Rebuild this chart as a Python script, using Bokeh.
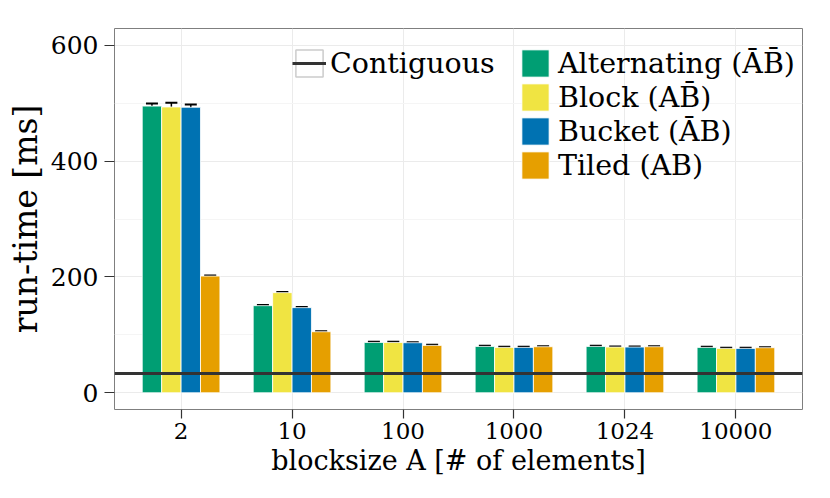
from bokeh.plotting import figure
from bokeh.models import (ColumnDataSource, FactorRange, Range1d, FixedTicker,
                          Whisker, TeeHead, Span, Legend, LegendItem)
from bokeh.transform import dodge
from bokeh.embed import file_html
from bokeh.resources import INLINE

# ---- data ----
blocksizes = ["2", "10", "100", "1000", "1024", "10000"]
series_names = ["Alternating (\u0100B\u0304)", "Block (AB\u0304)",
                "Bucket (\u0100B)", "Tiled (AB)"]
alternating = [495.0, 150.4, 86.9, 80.0, 80.0, 78.3]
block = [493.5, 172.9, 86.9, 78.3, 78.9, 76.6]
bucket = [493.0, 147.0, 86.4, 78.3, 78.9, 76.6]
tiled = [201.5, 105.4, 81.8, 79.5, 79.5, 77.8]
alternating_err = [4.6, 1.0, 1.0, 1.0, 1.0, 1.0]
block_err = [7.5, 1.0, 1.0, 1.0, 1.0, 1.0]
bucket_err = [4.6, 1.0, 1.0, 1.0, 1.0, 1.0]
tiled_err = [1.0, 1.0, 1.0, 1.0, 1.0, 1.0]
contiguous = 33.4
y_ticks = [0, 200, 400, 600]
y_minor = [100, 300, 500]

colors = ["#009E73", "#F0E442", "#0072B2", "#E69F00"]
FONT = "DejaVu Serif"

values = [alternating, block, bucket, tiled]
errors = [alternating_err, block_err, bucket_err, tiled_err]

p = figure(x_range=FactorRange(*blocksizes, range_padding=1 / 30),
           y_range=Range1d(-28.9, 629),
           width=814, height=482, output_backend="svg", toolbar_location=None,
           min_border_left=114, min_border_right=12, min_border_top=28,
           min_border_bottom=73)

p.background_fill_color = "white"
p.border_fill_color = "white"
p.outline_line_color = "#7F7F7F"
p.outline_line_width = 1

# grid
p.xgrid.grid_line_color = "#EBEBEB"
p.ygrid.grid_line_color = "#EBEBEB"
p.ygrid.minor_grid_line_color = "#F5F5F5"
p.yaxis.ticker = FixedTicker(ticks=y_ticks, minor_ticks=y_minor)

bar_w = 0.175
offsets = [-0.2625, -0.0875, 0.0875, 0.2625]
legend_items = []
for name, vals, errs, col, off in zip(series_names, values, errors, colors, offsets):
    src = ColumnDataSource(dict(
        cat=blocksizes, top=vals,
        upper=[v + e for v, e in zip(vals, errs)],
        lower=[v - e for v, e in zip(vals, errs)]))
    r = p.vbar(x=dodge("cat", off, range=p.x_range), top="top", bottom=0,
               width=bar_w, source=src, fill_color=col, line_color="white",
               line_width=0.8)
    legend_items.append(LegendItem(label=name, renderers=[r]))
    w = Whisker(base=dodge("cat", off, range=p.x_range), upper="upper",
                lower="lower", source=src, dimension="height",
                line_color="black", line_width=1.5,
                upper_head=TeeHead(size=12, line_color="black", line_width=2),
                lower_head=TeeHead(size=12, line_color="black", line_width=2))
    p.add_layout(w)

span = Span(location=contiguous, dimension="width", line_color="#333333",
            line_width=3)
p.add_layout(span)
# legend key for the reference line: a degenerate (zero-size) box that only
# shows up in the legend as the grey key frame, plus a single-point line
contig_box = p.vbar(x=blocksizes[:1], top=[contiguous], bottom=[contiguous],
                    width=0, fill_color="white", line_color="#CCCCCC",
                    line_width=1.5)
contig_r = p.line(x=blocksizes[:1], y=[contiguous], line_color="#333333",
                  line_width=3)

# axes
for ax in (p.xaxis, p.yaxis):
    ax.axis_line_color = None
    ax.major_tick_line_color = "#333333"
    ax.major_tick_line_width = 1.2
    ax.major_tick_in = 0
    ax.minor_tick_line_color = None
    ax.major_label_text_font = FONT
    ax.major_label_text_color = "black"
    ax.axis_label_text_font = FONT
    ax.axis_label_text_font_style = "normal"
    ax.axis_label_text_color = "black"

p.xaxis.major_tick_out = 9
p.yaxis.major_tick_out = 10
p.xaxis.major_label_text_font_size = "23px"
p.yaxis.major_label_text_font_size = "25px"
p.xaxis.axis_label = "blocksize A [# of elements]"
p.yaxis.axis_label = "run-time [ms]"
p.xaxis.axis_label_text_font_size = "27px"
p.yaxis.axis_label_text_font_size = "33px"
p.xaxis.major_label_standoff = 4
p.yaxis.major_label_standoff = 6
p.xaxis.axis_label_standoff = 3
p.yaxis.axis_label_standoff = 3


def make_legend(items, loc, standoff):
    lg = Legend(items=items, location=loc, orientation="vertical")
    lg.padding = 0
    lg.margin = 0
    lg.spacing = 0
    lg.border_line_alpha = 0
    lg.background_fill_alpha = 0
    lg.glyph_width = 34
    lg.glyph_height = 34
    lg.label_height = 34
    lg.label_standoff = standoff
    lg.label_text_font = FONT
    lg.label_text_font_size = "28.5px"
    lg.label_text_color = "black"
    return lg


fh = 381
p.add_layout(make_legend([LegendItem(label="Contiguous",
                                     renderers=[contig_box, contig_r])],
                         (178, fh - 18 - 34), 4))
p.add_layout(make_legend(legend_items, (404, fh - 18 - 136), 6))

open("out.html", "w").write(file_html(p, INLINE))
